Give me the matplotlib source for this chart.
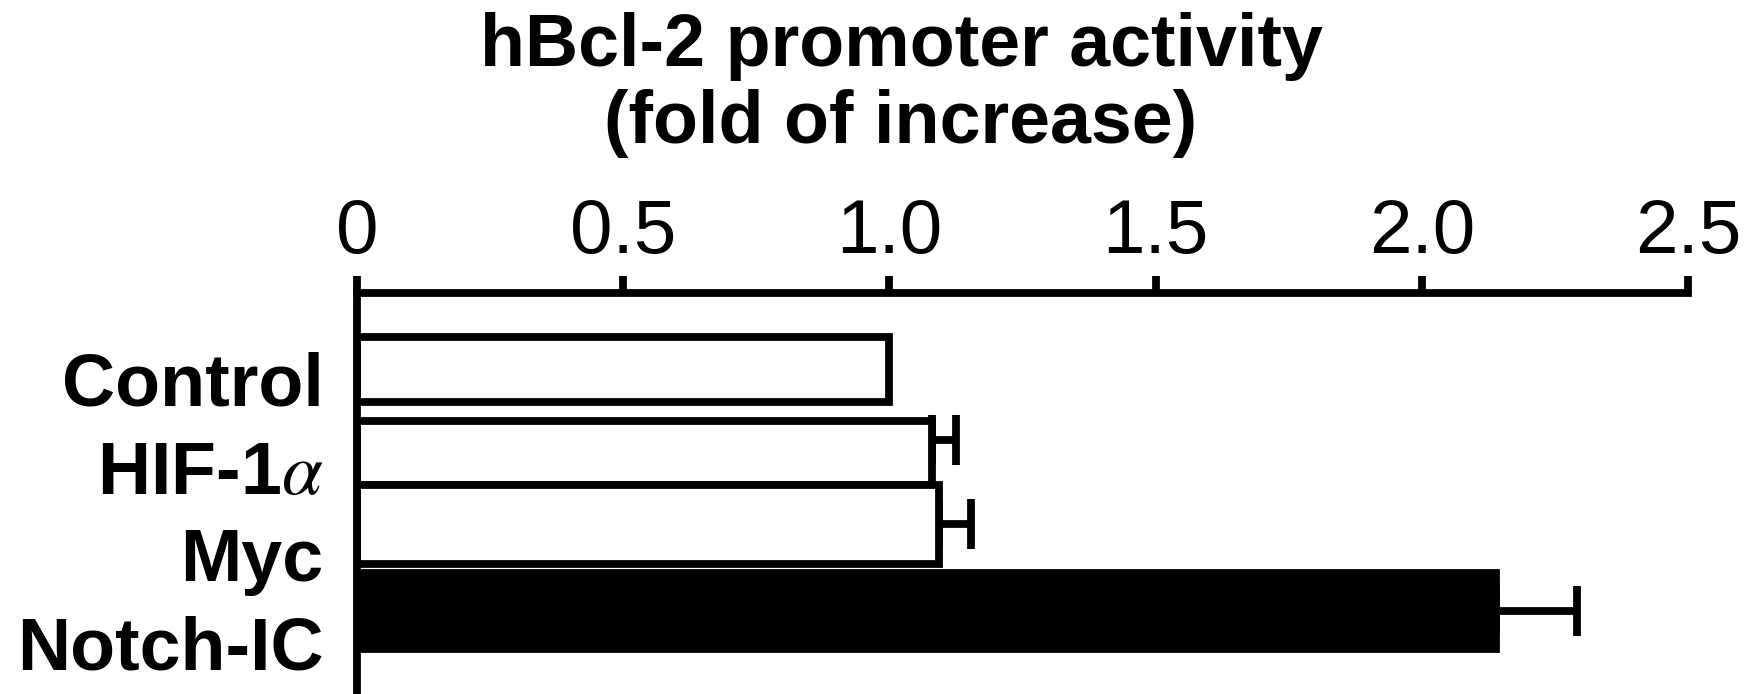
import matplotlib.pyplot as plt
import numpy as np

plt.rcParams["font.family"] = ["Liberation Sans", "DejaVu Sans"]
plt.rcParams["mathtext.fontset"] = "stix"

# data
groups = ["Control", "HIF-1$\\alpha$", "Myc", "Notch-IC"]
fold = [1.00, 1.08, 1.094, 2.14]
err = [0.0, 0.046, 0.059, 0.152]
colors = ["white", "white", "white", "black"]
xticks = [0, 0.5, 1.0, 1.5, 2.0, 2.5]
xticklabels = ["0", "0.5", "1.0", "1.5", "2.0", "2.5"]

# layout (bars are drawn slightly irregular in the original)
bar_pos = [-0.11, 0.84, 1.66, 2.645]
bar_h = [0.74, 0.73, 0.90, 0.87]
err_pos = [-0.11, 0.70, 1.65, 2.64]
label_pos = [0, 1, 2, 3]

fig = plt.figure(figsize=(17.44, 6.94), dpi=100)
ax = fig.add_axes([357 / 1744, 0.0, (1688 - 357) / 1744, 1 - 293 / 694])

lw = 5.6
ax.barh(bar_pos, fold, height=bar_h, color=colors, edgecolor="black",
        linewidth=lw, zorder=2)
for y, v, e in zip(err_pos, fold, err):
    if e > 0:
        ax.errorbar(v, y, xerr=[[0], [e]], fmt="none", ecolor="black",
                    elinewidth=lw, capsize=18, capthick=lw, zorder=1)

ax.set_xlim(0, 2.5)
ax.set_ylim(3.59, -0.98)
ax.xaxis.tick_top()
ax.set_xticks(xticks)
ax.set_xticklabels(xticklabels, fontsize=55)
ax.tick_params(axis="x", direction="out", length=12.5, width=lw, pad=5)
ax.set_yticks(label_pos)
ax.set_yticklabels(groups, fontsize=53, fontweight="bold")
ax.tick_params(axis="y", length=0, pad=24)

for s in ["right", "bottom"]:
    ax.spines[s].set_visible(False)
ax.spines["top"].set_linewidth(lw)
ax.spines["left"].set_linewidth(lw)

fig.text(901 / 1744, 1 - 12 / 694, "hBcl-2 promoter activity\n(fold of increase)",
         ha="center", va="top", fontsize=53, fontweight="bold", linespacing=1.15)

fig.savefig("out.png", dpi=100, facecolor="white")
